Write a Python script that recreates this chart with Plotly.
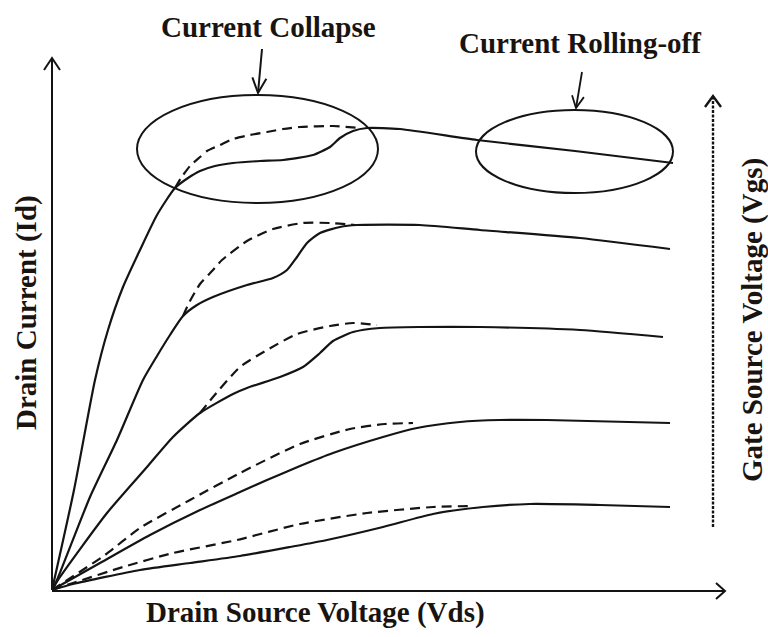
import math
import plotly.graph_objects as go

# ---- Data (arbitrary units: Vds horizontal, Id vertical, origin at 0,0) ----
# Solid curves (measured characteristics), from lowest Vgs to highest Vgs
s1_x = [0, 21, 88, 138, 188, 238, 275, 331, 381, 431, 478, 548, 618]
s1_y = [0, 6, 20, 27, 34, 43, 50, 63, 76, 83, 86, 85, 83]

s2_x = [0, 48, 98, 148, 188, 215, 248, 281, 331, 365, 408, 448, 495, 618]
s2_y = [0, 27, 55, 80, 98, 110, 124, 137, 153, 162, 168, 170, 170, 167]

s3_x = [0, 8, 55, 95, 121, 148, 181, 195, 228, 251, 268, 281, 301, 328, 368, 428, 528, 611]
s3_y = [0, 13, 77, 123, 153, 177, 196, 202, 213, 223, 237, 249, 258, 262, 263, 263, 260, 253]

s4_x = [0, 5, 38, 65, 91, 105, 118, 131, 145, 161, 195, 221, 235, 245, 255, 268, 288, 305, 368, 428, 528, 618]
s4_y = [0, 10, 93, 150, 210, 234, 255, 274, 285, 293, 305, 312, 320, 333, 347, 357, 363, 365, 365, 360, 352, 341]

s5_x = [0, 22, 43, 56, 71, 88, 105, 123, 136, 148, 163, 181, 208, 231, 261, 278, 288, 301, 315, 348, 425, 523, 621]
s5_y = [0, 100, 210, 260, 303, 340, 375, 402, 412, 419, 424, 427, 429, 430, 435, 443, 452, 459, 462, 461, 450, 439, 427]

# Dashed curves (ideal characteristics)
d1_x = [0, 21, 71, 121, 185, 248, 315, 381, 418]
d1_y = [0, 7, 23, 37, 50, 66, 77, 83, 84]

d2_x = [0, 53, 88, 138, 188, 248, 298, 333, 361]
d2_y = [0, 35, 62, 90, 117, 146, 161, 166, 167]

d3_x = [148, 161, 188, 215, 245, 278, 301, 325]
d3_y = [177, 193, 223, 240, 256, 264, 267, 265]

d4_x = [131, 138, 148, 161, 170, 195, 221, 251, 278, 303]
d4_y = [274, 289, 306, 320, 330, 349, 361, 367, 367, 365]

d5_x = [123, 129, 138, 148, 155, 168, 181, 198, 215, 231, 248, 281, 308]
d5_y = [402, 412, 424, 433, 439, 445, 451, 455, 458, 461, 463, 464, 462]

title_collapse = "Current Collapse"
title_rolloff = "Current Rolling-off"
x_label = "Drain Source Voltage (Vds)"
y_label = "Drain Current (Id)"
vgs_label = "Gate Source Voltage (Vgs)"

# ---- Styling / layout ----
INK = "#141414"
FONT = dict(family="Liberation Serif, Times New Roman, serif", size=29, color="#1a1410", weight="bold")
X_RANGE = [-52, 716]
Y_RANGE = [-47, 590]

fig = go.Figure()

solids = [(s1_x, s1_y), (s2_x, s2_y), (s3_x, s3_y), (s4_x, s4_y), (s5_x, s5_y)]
dashes = [(d1_x, d1_y), (d2_x, d2_y), (d3_x, d3_y), (d4_x, d4_y), (d5_x, d5_y)]

for xs, ys in solids:
    fig.add_trace(go.Scatter(x=xs, y=ys, mode="lines",
                             line=dict(color=INK, width=2.2, shape="spline", smoothing=0.6),
                             hoverinfo="skip", showlegend=False))
for xs, ys in dashes:
    fig.add_trace(go.Scatter(x=xs, y=ys, mode="lines",
                             line=dict(color=INK, width=2.2, dash="10px,6px", shape="spline", smoothing=0.6),
                             hoverinfo="skip", showlegend=False))

shapes = []


def chevron(tx, ty, sx, sy, length=13, half=7, width=2):
    dx, dy = tx - sx, ty - sy
    n = math.hypot(dx, dy)
    ux, uy = dx / n, dy / n
    px, py = -uy, ux
    bx, by = tx - ux * length, ty - uy * length
    w1 = (bx + px * half, by + py * half)
    w2 = (bx - px * half, by - py * half)
    return dict(type="path",
                path=f"M {w1[0]},{w1[1]} L {tx},{ty} L {w2[0]},{w2[1]}",
                line=dict(color=INK, width=width), xref="x", yref="y")


def arrow(sx, sy, tx, ty, width=2, dash="solid", length=13, half=7):
    shapes.append(dict(type="line", x0=sx, y0=sy, x1=tx, y1=ty,
                       line=dict(color=INK, width=width, dash=dash), xref="x", yref="y"))
    shapes.append(chevron(tx, ty, sx, sy, length=length, half=half, width=width))


# axes
arrow(0, 0, 0, 532, width=2, length=12, half=8)
arrow(0, -1, 673, -1, width=2, length=9, half=8)
# Vgs dotted arrow
arrow(661, 63, 661, 494, width=2.4, dash="3px,1.5px", length=11, half=8)
# annotation arrows
arrow(210, 541, 206, 497, width=2, length=15, half=7)
arrow(530, 518, 524, 482, width=1.8, length=12, half=6)

# ellipses
shapes.append(dict(type="circle", x0=85, x1=326, y0=387, y1=495,
                   line=dict(color=INK, width=2), xref="x", yref="y"))
shapes.append(dict(type="circle", x0=424, x1=621, y0=397, y1=480,
                   line=dict(color=INK, width=2), xref="x", yref="y"))

annotations = [
    dict(x=216, y=563, text=title_collapse, showarrow=False, font=FONT, xanchor="center", yanchor="middle"),
    dict(x=528, y=547, text=title_rolloff, showarrow=False, font=FONT, xanchor="center", yanchor="middle"),
    dict(x=263, y=-22, text=x_label, showarrow=False, font=FONT, xanchor="center", yanchor="middle"),
    dict(x=-26, y=277, text=y_label, showarrow=False, font=FONT, textangle=-90, xanchor="center", yanchor="middle"),
    dict(x=700, y=270, text=vgs_label, showarrow=False, font=FONT, textangle=-90, xanchor="center", yanchor="middle"),
]

fig.update_layout(
    width=768, height=637,
    margin=dict(l=0, r=0, t=0, b=0),
    paper_bgcolor="white", plot_bgcolor="white",
    xaxis=dict(range=X_RANGE, visible=False, fixedrange=True),
    yaxis=dict(range=Y_RANGE, visible=False, fixedrange=True),
    shapes=shapes, annotations=annotations,
    showlegend=False,
)

fig.write_html("out.html", config={"displayModeBar": False},
               post_script="document.body.style.margin='0';document.body.style.overflow='hidden';")
